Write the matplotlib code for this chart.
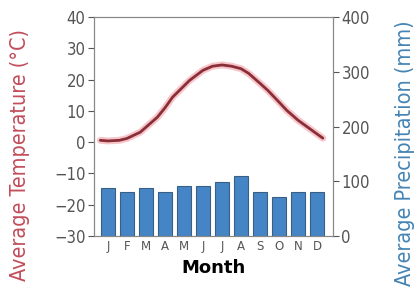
import matplotlib
matplotlib.use("Agg")
import matplotlib.pyplot as plt
from matplotlib import font_manager
import numpy as np

months = ["J", "F", "M", "A", "M", "J", "J", "A", "S", "O", "N", "D"]
precip_mm = [87, 80, 87, 81, 91, 91, 99, 110, 81, 72, 81, 81]

# temperature curve (month index, deg C)
temp_pos = [-0.4, 0.0, 0.6, 1.0, 1.7, 2.0, 2.6, 3.0, 3.4, 4.0, 4.3, 5.0, 5.5,
            6.0, 6.5, 7.0, 7.4, 8.0, 8.4, 9.0, 9.4, 10.0, 10.5, 11.0, 11.3]
temp_c = [0.6, 0.4, 0.6, 1.2, 3.2, 4.8, 8.0, 11.0, 14.4, 18.0, 19.8, 23.0, 24.3,
          24.7, 24.3, 23.5, 22.0, 18.8, 16.6, 12.8, 10.2, 7.0, 4.8, 2.6, 1.3]

TEMP_COLOR = "#c24d5a"
PREC_COLOR = "#4584b4"
TICK_COLOR = "#555555"

narrow = font_manager.FontProperties(family="DejaVu Sans", stretch="condensed", size=15.5)
tick_font = font_manager.FontProperties(family="DejaVu Sans", stretch="condensed", size=12)

fig = plt.figure(figsize=(4.19, 2.95), dpi=100)
ax = fig.add_axes([0.224, 0.2, 0.571, 0.742])
ax2 = ax.twinx()

x = np.arange(len(months))
ax2.bar(x, precip_mm, width=0.7, color="#4585c6", edgecolor="#3a5f85", lw=0.8)
ax2.set_ylim(0, 400)
ax2.set_yticks([0, 100, 200, 300, 400])
ax2.set_yticklabels(["0", "100", "200", "300", "400"], fontproperties=tick_font)

ax.set_zorder(ax2.get_zorder() + 1)
ax.patch.set_visible(False)
ax.plot(temp_pos, temp_c, color="#f2a0a8", lw=5, alpha=0.6,
        solid_capstyle="round", solid_joinstyle="round")
ax.plot(temp_pos, temp_c, color="#8a2e38", lw=2,
        solid_capstyle="round", solid_joinstyle="round")
ax.set_ylim(-30, 40)
ax.set_yticks(range(-30, 41, 10))
ax.set_xlim(-0.74, 11.84)
ax.set_xticks(x)
ax.set_xticklabels(months, fontsize=8.5, color=TICK_COLOR)
ax.set_yticklabels([f"\u2212{abs(v)}" if v < 0 else str(v) for v in range(-30, 41, 10)],
                   fontproperties=tick_font)

for a in (ax, ax2):
    a.tick_params(axis="y", colors=TICK_COLOR, length=4, width=0.8, pad=2)
    for s in a.spines.values():
        s.set_color("#888888")
        s.set_linewidth(0.8)
ax.tick_params(axis="x", length=0, pad=3)

ax.set_xlabel("Month", fontsize=13, fontweight="bold", labelpad=4)
ax.set_ylabel("Average Temperature (\u00b0C)", fontproperties=narrow, color=TEMP_COLOR)
ax2.set_ylabel("Average Precipitation (mm)", fontproperties=narrow, color=PREC_COLOR)
ax.yaxis.set_label_coords(-0.265, 0.37)
ax2.yaxis.set_label_coords(1.26, 0.38)

fig.savefig("out.png", dpi=100)
